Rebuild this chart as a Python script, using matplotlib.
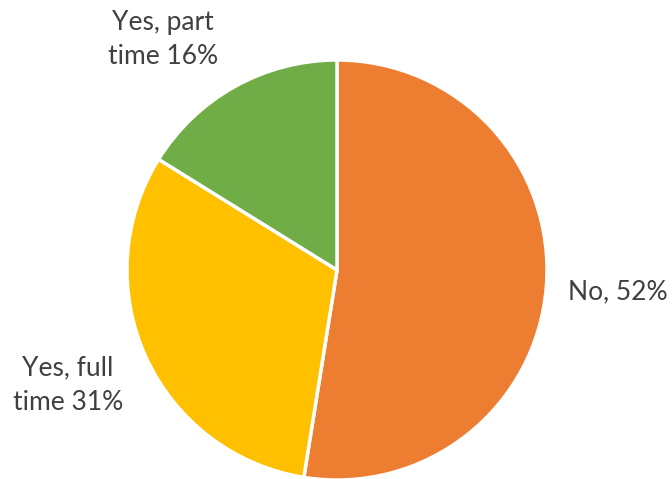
import matplotlib
matplotlib.use('Agg')
import matplotlib.pyplot as plt

labels = ['No, 52%', 'Yes, full\ntime 31%', 'Yes, part\ntime 16%']
values = [52, 31, 16]
colors = ['#ED7D31', '#FFC000', '#70AD47']

# label centres in pixels (x, y from top)
label_pos = [(618, 292), (68, 385), (163, 39)]

W, H = 672, 479
fig = plt.figure(figsize=(W / 100, H / 100), dpi=100)
ax = fig.add_axes([0, 0, 1, 1])

ax.pie(values, colors=colors, startangle=90, counterclock=False,
       center=(337, H - 270), radius=210, frame=True,
       wedgeprops=dict(edgecolor='white', linewidth=2.5))

for lab, (x, y) in zip(labels, label_pos):
    ax.text(x, H - y, lab, ha='center', va='center', fontsize=19,
            family='Lato', color='#404040', linespacing=1.45)

ax.set_xlim(0, W)
ax.set_ylim(0, H)
ax.set_aspect('equal')
ax.axis('off')

fig.savefig('out.png', dpi=100)
